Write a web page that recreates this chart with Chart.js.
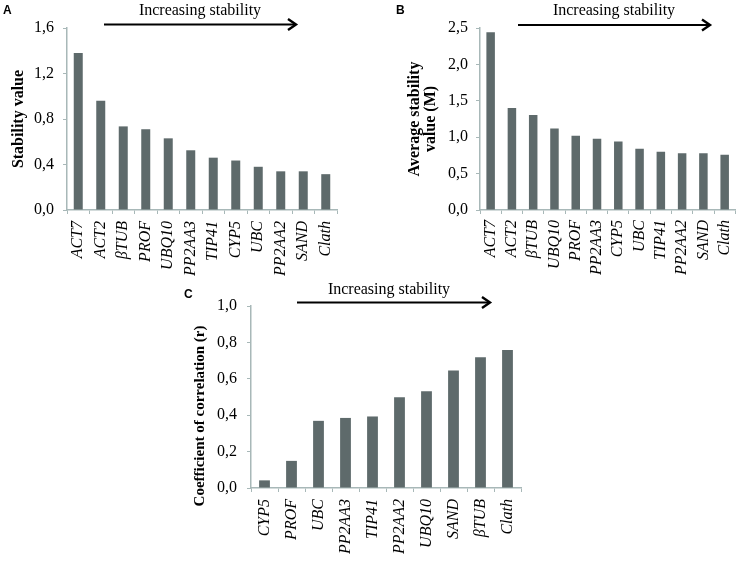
<!DOCTYPE html>
<html>
<head>
<meta charset="utf-8">
<script src="https://cdn.jsdelivr.net/npm/chart.js@4/dist/chart.umd.min.js"></script>
<style>
  html, body { margin: 0; padding: 0; background: #ffffff; }
  body { width: 750px; height: 562px; position: relative; overflow: hidden; }
  .panel { position: absolute; }
</style>
</head>
<body>
<div class="panel" style="left:0px;top:0px;width:370px;height:290px;"><canvas id="chartA" width="370" height="290"></canvas></div>
<div class="panel" style="left:370px;top:0px;width:380px;height:290px;"><canvas id="chartB" width="380" height="290"></canvas></div>
<div class="panel" style="left:180px;top:270px;width:380px;height:292px;"><canvas id="chartC" width="380" height="292"></canvas></div>
<script>
// ---- Data ----
const categoriesA = ['ACT7','ACT2','βTUB','PROF','UBQ10','PP2AA3','TIP41','CYP5','UBC','PP2AA2','SAND','Clath'];
const valuesA = [1.38, 0.96, 0.735, 0.71, 0.63, 0.525, 0.46, 0.435, 0.38, 0.34, 0.34, 0.315];
const tickLabelsA = ['0,0','0,4','0,8','1,2','1,6'];

const categoriesB = ['ACT7','ACT2','βTUB','UBQ10','PROF','PP2AA3','CYP5','UBC','TIP41','PP2AA2','SAND','Clath'];
const valuesB = [2.44, 1.40, 1.305, 1.12, 1.02, 0.98, 0.94, 0.84, 0.80, 0.78, 0.78, 0.76];
const tickLabelsB = ['0,0','0,5','1,0','1,5','2,0','2,5'];

const categoriesC = ['CYP5','PROF','UBC','PP2AA3','TIP41','PP2AA2','UBQ10','SAND','βTUB','Clath'];
const valuesC = [0.042, 0.149, 0.369, 0.385, 0.393, 0.499, 0.532, 0.646, 0.718, 0.758];
const tickLabelsC = ['0,0','0,2','0,4','0,6','0,8','1,0'];

const titleText = 'Increasing stability';

// ---- Styles ----
const BAR_COLOR = '#5e6a6b';
const AXIS_COLOR = '#a8b8b8';
const SERIF = "'Liberation Serif', 'Times New Roman', serif";
const SANS = "'Liberation Sans', Arial, sans-serif";

const decorPlugin = {
  id: 'decor',
  afterDraw(chart, args, opts) {
    const ctx = chart.ctx;
    ctx.save();
    // panel letter
    ctx.fillStyle = '#000';
    ctx.font = 'bold 12px ' + SANS;
    ctx.textAlign = 'left';
    ctx.textBaseline = 'alphabetic';
    ctx.fillText(opts.letter, opts.letterX, opts.letterY);
    // header text
    ctx.font = '16px ' + SERIF;
    ctx.textAlign = 'center';
    ctx.fillText(opts.text, opts.textX, opts.textY);
    // arrow
    ctx.strokeStyle = '#000';
    ctx.lineWidth = 2;
    ctx.beginPath();
    ctx.moveTo(opts.ax1, opts.ay);
    ctx.lineTo(opts.ax2, opts.ay);
    ctx.stroke();
    ctx.lineWidth = 2.4;
    ctx.lineJoin = 'miter';
    ctx.beginPath();
    ctx.moveTo(opts.ax2 - 8, opts.ay - 5.5);
    ctx.lineTo(opts.ax2, opts.ay);
    ctx.lineTo(opts.ax2 - 8, opts.ay + 5.5);
    ctx.stroke();
    // optional custom y title
    if (opts.yTitle) {
      ctx.translate(opts.yTitleX, opts.yTitleY);
      ctx.rotate(-Math.PI / 2);
      ctx.font = 'bold ' + opts.yTitleSize + 'px ' + SERIF;
      ctx.textAlign = 'center';
      ctx.textBaseline = 'middle';
      ctx.fillText(opts.yTitle, 0, 0);
    }
    ctx.restore();
  }
};

function makeChart(id, cats, vals, tickLabels, cfg) {
  return new Chart(document.getElementById(id), {
    type: 'bar',
    data: {
      labels: cats,
      datasets: [{
        data: vals,
        backgroundColor: BAR_COLOR,
        borderWidth: 0,
        barPercentage: 0.4,
        categoryPercentage: 1.0
      }]
    },
    options: {
      responsive: false,
      animation: false,
      events: [],
      layout: { padding: cfg.padding },
      plugins: {
        legend: { display: false },
        tooltip: { enabled: false },
        title: { display: false },
        decor: cfg.decor
      },
      scales: {
        x: {
          grid: { display: true, drawOnChartArea: false, drawTicks: true, tickLength: 4, color: AXIS_COLOR, offset: true },
          border: { display: true, color: AXIS_COLOR, width: 1.5 },
          ticks: {
            autoSkip: false, minRotation: 90, maxRotation: 90,
            padding: cfg.xPad, color: '#000',
            font: { family: SERIF, size: 16, style: 'italic' }
          },
          afterFit(scale) { scale.height = cfg.xHeight; }
        },
        y: {
          min: 0, max: cfg.max,
          grid: { display: true, drawOnChartArea: false, drawTicks: true, tickLength: 4, color: AXIS_COLOR },
          border: { display: true, color: AXIS_COLOR, width: 1.5 },
          ticks: {
            stepSize: cfg.step, padding: cfg.yPad, color: '#000',
            font: { family: SERIF, size: 16 },
            callback: (v, i) => tickLabels[i]
          },
          title: cfg.yTitle,
          afterFit(scale) { scale.width = cfg.yWidth; }
        }
      }
    },
    plugins: [decorPlugin]
  });
}

makeChart('chartA', categoriesA, valuesA, tickLabelsA, {
  max: 1.6, step: 0.4,
  padding: { left: 0, top: 28, right: 33, bottom: 0 },
  yWidth: 67, xHeight: 80, xPad: 7, yPad: 9,
  yTitle: { display: true, text: 'Stability value', color: '#000',
            font: { family: SERIF, size: 16, weight: 'bold', lineHeight: 1.2 },
            padding: { top: 9, bottom: 0 } },
  decor: { letter: 'A', letterX: 3, letterY: 14, text: titleText, textX: 200, textY: 14.5,
           ax1: 104, ax2: 296, ay: 24.5 }
});

makeChart('chartB', categoriesB, valuesB, tickLabelsB, {
  max: 2.5, step: 0.5,
  padding: { left: 0, top: 28, right: 3, bottom: 0 },
  yWidth: 110, xHeight: 80, xPad: 6, yPad: 8,
  yTitle: { display: true, text: ['Average stability', 'value (M)'], color: '#000',
            font: { family: SERIF, size: 16, weight: 'bold', lineHeight: 1.0 },
            padding: { top: 37, bottom: 0 } },
  decor: { letter: 'B', letterX: 26, letterY: 14, text: titleText, textX: 244, textY: 15,
           ax1: 148, ax2: 340, ay: 25 }
});

makeChart('chartC', categoriesC, valuesC, tickLabelsC, {
  max: 1.0, step: 0.2,
  padding: { left: 0, top: 36, right: 39, bottom: 0 },
  yWidth: 71, xHeight: 74, xPad: 7, yPad: 10,
  yTitle: { display: false },
  decor: { letter: 'C', letterX: 4, letterY: 28, text: titleText, textX: 209, textY: 24,
           ax1: 117, ax2: 310, ay: 32.5,
           yTitle: 'Coefficient of correlation (r)', yTitleX: 20, yTitleY: 146, yTitleSize: 15 }
});
</script>
</body>
</html>
